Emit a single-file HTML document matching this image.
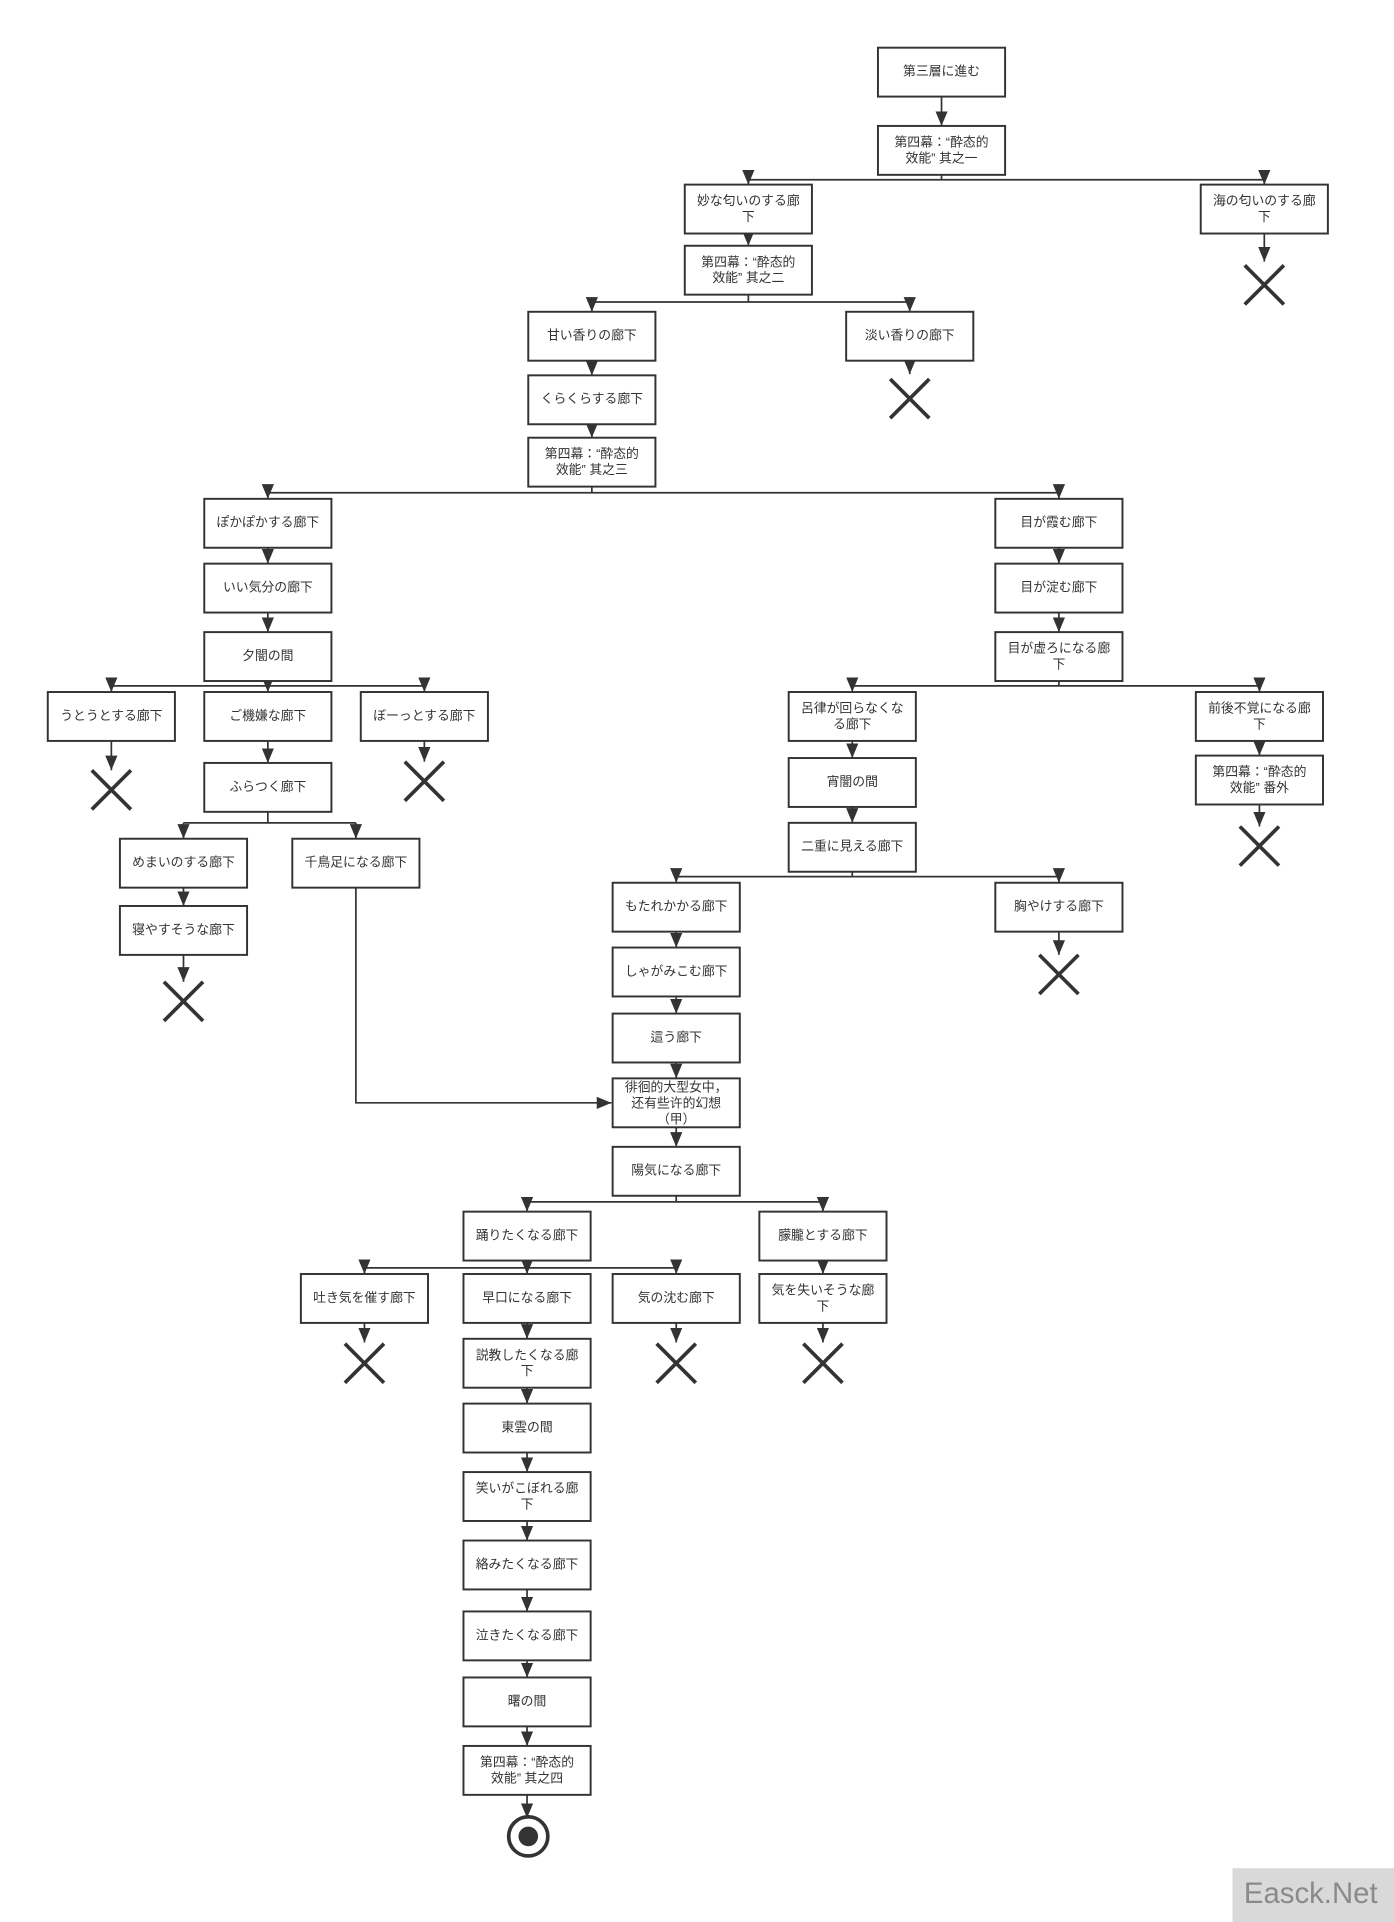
<!DOCTYPE html>
<html><head><meta charset="utf-8"><style>
html,body{margin:0;padding:0;background:#fff;}
svg{display:block;}
text{font-family:"Liberation Sans","Noto Sans CJK JP",sans-serif;font-size:10.5px;fill:#333;text-anchor:middle;dominant-baseline:middle;}
.b{fill:#fff;stroke:#333;stroke-width:1.6;}
.l{stroke:#333;stroke-width:1.4;fill:none;}
.x{stroke:#333;stroke-width:3;}
</style></head><body>
<svg width="1394" height="1922" viewBox="0 0 1140 1572" xmlns="http://www.w3.org/2000/svg">
<defs><marker id="a" markerUnits="userSpaceOnUse" markerWidth="12" markerHeight="10" refX="12" refY="5" orient="auto" viewBox="0 0 12 10"><path d="M0,0 L12,5 L0,10 Z" fill="#333"/></marker>
<marker id="r" markerUnits="userSpaceOnUse" markerWidth="12" markerHeight="10" refX="12" refY="5" orient="auto" viewBox="0 0 12 10"><path d="M0,0 L12,5 L0,10 Z" fill="#333"/></marker></defs>

<!-- connectors -->
<g class="l">
<path d="M770 79V103" marker-end="url(#a)"/>
<path d="M770 143V147M612 147H1034"/>
<path d="M612 147V151" marker-end="url(#a)"/>
<path d="M1034 147V151" marker-end="url(#a)"/>
<path d="M1034 191V214" marker-end="url(#a)"/>
<path d="M612 191V201" marker-end="url(#a)"/>
<path d="M612 241V247M484 247H744"/>
<path d="M484 243V255" marker-end="url(#a)"/>
<path d="M744 243V255" marker-end="url(#a)"/>
<path d="M744 295V306" marker-end="url(#a)"/>
<path d="M484 295V307" marker-end="url(#a)"/>
<path d="M484 347V358" marker-end="url(#a)"/>
<path d="M484 398V403M219 403H866"/>
<path d="M219 398V408" marker-end="url(#a)"/>
<path d="M866 398V408" marker-end="url(#a)"/>
<path d="M219 448V461" marker-end="url(#a)"/>
<path d="M866 448V461" marker-end="url(#a)"/>
<path d="M219 501V517" marker-end="url(#a)"/>
<path d="M866 501V517" marker-end="url(#a)"/>
<path d="M219 557V561M91 561H347M866 557V561M697 561H1030"/>
<path d="M91 555V566" marker-end="url(#a)"/>
<path d="M219 555V566" marker-end="url(#a)"/>
<path d="M347 555V566" marker-end="url(#a)"/>
<path d="M697 555V566" marker-end="url(#a)"/>
<path d="M1030 555V566" marker-end="url(#a)"/>
<path d="M91 606V630" marker-end="url(#a)"/>
<path d="M347 606V623" marker-end="url(#a)"/>
<path d="M219 606V624" marker-end="url(#a)"/>
<path d="M1030 606V618" marker-end="url(#a)"/>
<path d="M1030 658V676" marker-end="url(#a)"/>
<path d="M697 606V620" marker-end="url(#a)"/>
<path d="M697 660V673" marker-end="url(#a)"/>
<path d="M219 664V673M150 673H291"/>
<path d="M150 673V686" marker-end="url(#a)"/>
<path d="M291 673V686" marker-end="url(#a)"/>
<path d="M150 726V741" marker-end="url(#a)"/>
<path d="M150 781V803" marker-end="url(#a)"/>
<path d="M291 726V902H500" marker-end="url(#r)"/>
<path d="M697 713V717M553 717H866"/>
<path d="M553 717V722" marker-end="url(#a)"/>
<path d="M866 717V722" marker-end="url(#a)"/>
<path d="M866 762V781" marker-end="url(#a)"/>
<path d="M553 762V775" marker-end="url(#a)"/>
<path d="M553 815V829" marker-end="url(#a)"/>
<path d="M553 869V882" marker-end="url(#a)"/>
<path d="M553 922V938" marker-end="url(#a)"/>
<path d="M553 978V983M431 983H673"/>
<path d="M431 979V991" marker-end="url(#a)"/>
<path d="M673 979V991" marker-end="url(#a)"/>
<path d="M431 1031V1037M298 1037H553"/>
<path d="M298 1032V1042" marker-end="url(#a)"/>
<path d="M431 1031V1042" marker-end="url(#a)"/>
<path d="M553 1032V1042" marker-end="url(#a)"/>
<path d="M673 1031V1042" marker-end="url(#a)"/>
<path d="M298 1082V1098" marker-end="url(#a)"/>
<path d="M553 1082V1098" marker-end="url(#a)"/>
<path d="M673 1082V1098" marker-end="url(#a)"/>
<path d="M431 1082V1095" marker-end="url(#a)"/>
<path d="M431 1135V1148" marker-end="url(#a)"/>
<path d="M431 1188V1204" marker-end="url(#a)"/>
<path d="M431 1244V1260" marker-end="url(#a)"/>
<path d="M431 1300V1318" marker-end="url(#a)"/>
<path d="M431 1358V1372" marker-end="url(#a)"/>
<path d="M431 1412V1428" marker-end="url(#a)"/>
<path d="M431 1468V1487" marker-end="url(#a)"/>
</g>

<!-- X marks -->
<g class="x">
<path d="M1018 217L1050 249M1050 217L1018 249"/>
<path d="M728 310L760 342M760 310L728 342"/>
<path d="M75 630L107 662M107 630L75 662"/>
<path d="M331 623L363 655M363 623L331 655"/>
<path d="M134 803L166 835M166 803L134 835"/>
<path d="M1014 676L1046 708M1046 676L1014 708"/>
<path d="M850 781L882 813M882 781L850 813"/>
<path d="M282 1099L314 1131M314 1099L282 1131"/>
<path d="M537 1099L569 1131M569 1099L537 1131"/>
<path d="M657 1099L689 1131M689 1099L657 1131"/>
</g>

<!-- end -->
<circle cx="432" cy="1502" r="16" fill="none" stroke="#333" stroke-width="3"/>
<circle cx="432" cy="1502" r="8" fill="#333"/>

<!-- boxes -->
<g>
<rect class="b" x="718" y="39" width="104" height="40"/><text x="770" y="59">第三層に進む</text>
<rect class="b" x="718" y="103" width="104" height="40"/><text x="770" y="117">第四幕：“酔态的</text><text x="770" y="130">效能” 其之一</text>
<rect class="b" x="560" y="151" width="104" height="40"/><text x="612" y="165">妙な匂いのする廊</text><text x="612" y="178">下</text>
<rect class="b" x="982" y="151" width="104" height="40"/><text x="1034" y="165">海の匂いのする廊</text><text x="1034" y="178">下</text>
<rect class="b" x="560" y="201" width="104" height="40"/><text x="612" y="215">第四幕：“酔态的</text><text x="612" y="228">效能” 其之二</text>
<rect class="b" x="432" y="255" width="104" height="40"/><text x="484" y="275">甘い香りの廊下</text>
<rect class="b" x="692" y="255" width="104" height="40"/><text x="744" y="275">淡い香りの廊下</text>
<rect class="b" x="432" y="307" width="104" height="40"/><text x="484" y="327">くらくらする廊下</text>
<rect class="b" x="432" y="358" width="104" height="40"/><text x="484" y="372">第四幕：“酔态的</text><text x="484" y="385">效能” 其之三</text>
<rect class="b" x="167" y="408" width="104" height="40"/><text x="219" y="428">ぽかぽかする廊下</text>
<rect class="b" x="814" y="408" width="104" height="40"/><text x="866" y="428">目が霞む廊下</text>
<rect class="b" x="167" y="461" width="104" height="40"/><text x="219" y="481">いい気分の廊下</text>
<rect class="b" x="814" y="461" width="104" height="40"/><text x="866" y="481">目が淀む廊下</text>
<rect class="b" x="167" y="517" width="104" height="40"/><text x="219" y="537">夕闇の間</text>
<rect class="b" x="814" y="517" width="104" height="40"/><text x="866" y="531">目が虚ろになる廊</text><text x="866" y="544">下</text>
<rect class="b" x="39" y="566" width="104" height="40"/><text x="91" y="586">うとうとする廊下</text>
<rect class="b" x="167" y="566" width="104" height="40"/><text x="219" y="586">ご機嫌な廊下</text>
<rect class="b" x="295" y="566" width="104" height="40"/><text x="347" y="586">ぼーっとする廊下</text>
<rect class="b" x="167" y="624" width="104" height="40"/><text x="219" y="644">ふらつく廊下</text>
<rect class="b" x="98" y="686" width="104" height="40"/><text x="150" y="706">めまいのする廊下</text>
<rect class="b" x="239" y="686" width="104" height="40"/><text x="291" y="706">千鳥足になる廊下</text>
<rect class="b" x="98" y="741" width="104" height="40"/><text x="150" y="761">寝やすそうな廊下</text>
<rect class="b" x="645" y="566" width="104" height="40"/><text x="697" y="580">呂律が回らなくな</text><text x="697" y="593">る廊下</text>
<rect class="b" x="978" y="566" width="104" height="40"/><text x="1030" y="580">前後不覚になる廊</text><text x="1030" y="593">下</text>
<rect class="b" x="978" y="618" width="104" height="40"/><text x="1030" y="632">第四幕：“酔态的</text><text x="1030" y="645">效能” 番外</text>
<rect class="b" x="645" y="620" width="104" height="40"/><text x="697" y="640">宵闇の間</text>
<rect class="b" x="645" y="673" width="104" height="40"/><text x="697" y="693">二重に見える廊下</text>
<rect class="b" x="501" y="722" width="104" height="40"/><text x="553" y="742">もたれかかる廊下</text>
<rect class="b" x="814" y="722" width="104" height="40"/><text x="866" y="742">胸やけする廊下</text>
<rect class="b" x="501" y="775" width="104" height="40"/><text x="553" y="795">しゃがみこむ廊下</text>
<rect class="b" x="501" y="829" width="104" height="40"/><text x="553" y="849">這う廊下</text>
<rect class="b" x="501" y="882" width="104" height="40"/><text x="553" y="890">徘徊的大型女中，</text><text x="553" y="903">还有些许的幻想</text><text x="553" y="916">（甲）</text>
<rect class="b" x="501" y="938" width="104" height="40"/><text x="553" y="958">陽気になる廊下</text>
<rect class="b" x="379" y="991" width="104" height="40"/><text x="431" y="1011">踊りたくなる廊下</text>
<rect class="b" x="621" y="991" width="104" height="40"/><text x="673" y="1011">朦朧とする廊下</text>
<rect class="b" x="246" y="1042" width="104" height="40"/><text x="298" y="1062">吐き気を催す廊下</text>
<rect class="b" x="379" y="1042" width="104" height="40"/><text x="431" y="1062">早口になる廊下</text>
<rect class="b" x="501" y="1042" width="104" height="40"/><text x="553" y="1062">気の沈む廊下</text>
<rect class="b" x="621" y="1042" width="104" height="40"/><text x="673" y="1056">気を失いそうな廊</text><text x="673" y="1069">下</text>
<rect class="b" x="379" y="1095" width="104" height="40"/><text x="431" y="1109">説教したくなる廊</text><text x="431" y="1122">下</text>
<rect class="b" x="379" y="1148" width="104" height="40"/><text x="431" y="1168">東雲の間</text>
<rect class="b" x="379" y="1204" width="104" height="40"/><text x="431" y="1218">笑いがこぼれる廊</text><text x="431" y="1231">下</text>
<rect class="b" x="379" y="1260" width="104" height="40"/><text x="431" y="1280">絡みたくなる廊下</text>
<rect class="b" x="379" y="1318" width="104" height="40"/><text x="431" y="1338">泣きたくなる廊下</text>
<rect class="b" x="379" y="1372" width="104" height="40"/><text x="431" y="1392">曙の間</text>
<rect class="b" x="379" y="1428" width="104" height="40"/><text x="431" y="1442">第四幕：“酔态的</text><text x="431" y="1455">效能” 其之四</text>
</g>

<!-- watermark -->
<rect x="1008" y="1528" width="132" height="44" fill="#d9d9d9"/>
<text x="1072" y="1550" style="font-size:24px;fill:#8a8a8a;">Easck.Net</text>
</svg>
</body></html>
